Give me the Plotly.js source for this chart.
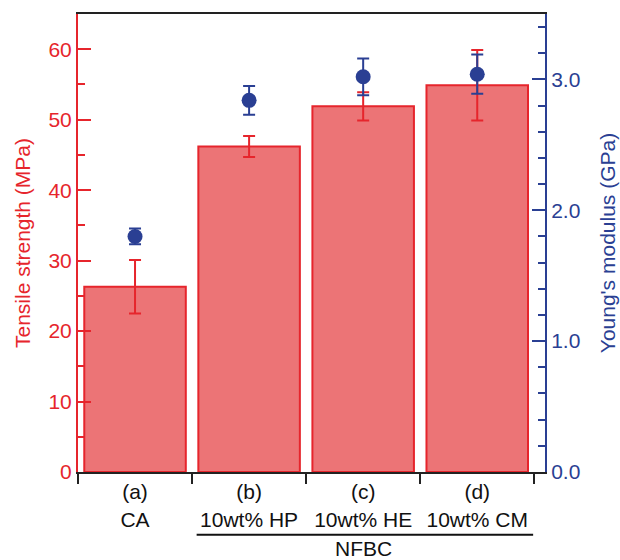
<!DOCTYPE html>
<html>
<head>
<meta charset="utf-8">
<script src="https://cdn.plot.ly/plotly-3.0.1.min.js"></script>
<style>html,body{margin:0;padding:0;background:#fff;}#chart{width:620px;height:560px;}</style>
</head>
<body>
<div id="chart"></div>
<script>
// ---- data ----
var ids = ['(a)', '(b)', '(c)', '(d)'];
var samples = ['CA', '10wt% HP', '10wt% HE', '10wt% CM'];
var tensile = [26.3, 46.2, 51.9, 54.9];        // MPa
var tensileErr = [3.8, 1.5, 2.0, 5.0];
var modulus = [1.80, 2.84, 3.02, 3.04];        // GPa
var modulusErr = [0.06, 0.11, 0.14, 0.15];
var groupLabel = 'NFBC';
var groupMembers = ['(b)', '(d)'];

var RED = '#E6252C', FILL = '#EC7476', BLUE = '#2A3F93';
var FONT = 'Liberation Sans, Arial, sans-serif';
var tickText = ids.map(function (d, i) { return d + '<br>' + samples[i]; });

var traces = [
  {
    type: 'bar', x: ids, y: tensile, yaxis: 'y',
    marker: { color: FILL, line: { color: RED, width: 2 } },
    error_y: { type: 'data', array: tensileErr, visible: true, color: RED, thickness: 2, width: 6 },
    hoverinfo: 'skip'
  },
  {
    type: 'scatter', mode: 'markers', x: ids, y: modulus, yaxis: 'y2',
    marker: { color: BLUE, size: 15 },
    error_y: { type: 'data', array: modulusErr, visible: true, color: BLUE, thickness: 2, width: 6 },
    hoverinfo: 'skip'
  }
];

var i0 = ids.indexOf(groupMembers[0]), i1 = ids.indexOf(groupMembers[1]);

var layout = {
  width: 620, height: 560,
  margin: { l: 78, r: 75, t: 14, b: 88 },
  paper_bgcolor: '#fff', plot_bgcolor: '#fff',
  showlegend: false,
  bargap: 0.11,
  font: { family: FONT, size: 21, color: '#000' },
  xaxis: {
    type: 'category', categoryorder: 'array', categoryarray: ids,
    range: [-0.5, 3.594],
    tickvals: ids, ticktext: tickText,
    tickson: 'boundaries', ticks: 'outside', ticklen: 10, tickwidth: 2, tickcolor: '#222',
    showline: true, linecolor: '#222', linewidth: 2, mirror: true,
    showgrid: false, zeroline: false,
    tickfont: { size: 21, color: '#111' }
  },
  yaxis: {
    range: [0, 65], dtick: 10, tick0: 0,
    ticks: 'inside', ticklen: 13, tickwidth: 2, tickcolor: RED,
    minor: { dtick: 5, tick0: 0, ticks: 'inside', ticklen: 7, tickwidth: 2, tickcolor: RED },
    showline: true, linecolor: RED, linewidth: 2,
    showgrid: false, zeroline: false,
    tickfont: { size: 21, color: RED },
    title: { text: 'Tensile strength (MPa)', font: { size: 21, color: RED }, standoff: 12 }
  },
  yaxis2: {
    overlaying: 'y', side: 'right',
    range: [0, 3.5], dtick: 1, tick0: 0, tickformat: '.1f',
    ticks: 'inside', ticklen: 13, tickwidth: 2, tickcolor: BLUE,
    minor: { dtick: 0.2, tick0: 0, ticks: 'inside', ticklen: 7, tickwidth: 2, tickcolor: BLUE },
    showline: true, linecolor: BLUE, linewidth: 2,
    showgrid: false, zeroline: false,
    tickfont: { size: 21, color: BLUE },
    title: { text: "Young's modulus (GPa)", font: { size: 21, color: BLUE }, standoff: 21 }
  },
  shapes: [
    { type: 'line', xref: 'x', yref: 'paper', x0: i0 - 0.46, x1: i1 + 0.49, y0: -0.137, y1: -0.137,
      line: { color: '#111', width: 2 } }
  ],
  annotations: [
    { xref: 'x', yref: 'paper', x: (i0 + i1) / 2, y: -0.168, text: groupLabel, showarrow: false,
      xanchor: 'center', yanchor: 'middle', font: { size: 21, color: '#111' } }
  ]
};

Plotly.newPlot('chart', traces, layout, { displayModeBar: false, staticPlot: true });
</script>
</body>
</html>
